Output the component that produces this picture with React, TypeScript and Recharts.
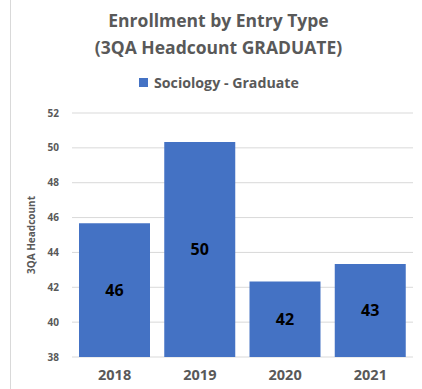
import React from "react";
import { BarChart, Bar, XAxis, YAxis, CartesianGrid, LabelList } from "recharts";

const years = ["2018", "2019", "2020", "2021"];
const headcount = [45.67, 50.33, 42.33, 43.33];
const yTicks = [38, 40, 42, 44, 46, 48, 50, 52];

const data = years.map((y, i) => ({ year: y, value: headcount[i] }));

const FONT = "'Open Sans', sans-serif";
const GRAY = "#595959";

export default function App() {
  return (
    <div style={{ position: "absolute", left: 0, top: 0, width: 422, height: 389, background: "#fff", fontFamily: FONT }}>
      <div style={{ position: "absolute", left: 10, top: 0, width: 1, height: 389, background: "#d9d9d9" }} />
      <div style={{ position: "absolute", left: 0, top: 7, width: 437, textAlign: "center", color: GRAY, fontWeight: 700, fontSize: 17.5, lineHeight: "27px" }}>
        <div>Enrollment by Entry Type</div>
        <div>(3QA Headcount GRADUATE)</div>
      </div>
      <div style={{ position: "absolute", left: 139, top: 73, display: "flex", alignItems: "center", color: GRAY, fontWeight: 700, fontSize: 14.2 }}>
        <span style={{ display: "inline-block", width: 9, height: 9, background: "#4472C4", marginRight: 6 }} />
        <span>Sociology - Graduate</span>
      </div>
      <div style={{ position: "absolute", left: 0, top: 0 }}>
        <BarChart width={422} height={389} data={data} margin={{ top: 113, right: 9, bottom: 0, left: 0 }} barCategoryGap={7}>
          <CartesianGrid vertical={false} stroke="#d9d9d9" />
          <XAxis dataKey="year" axisLine={false} tickLine={false} height={32} tick={{ fill: GRAY, fontSize: 14.5, fontWeight: 700, fontFamily: FONT }} dy={5} />
          <YAxis
            domain={[38, 52]}
            ticks={yTicks}
            interval={0}
            axisLine={false}
            tickLine={false}
            width={72}
            tick={{ fill: GRAY, fontSize: 10, fontWeight: 700, fontFamily: FONT }}
            dx={-5}
            label={{ value: "3QA Headcount", angle: -90, position: "insideLeft", offset: 31, style: { fill: GRAY, fontSize: 10, fontWeight: 700, fontFamily: FONT, textAnchor: "middle" } }}
          />
          <Bar dataKey="value" fill="#4472C4" isAnimationActive={false}>
            <LabelList dataKey="value" position="center" formatter={(v: number) => Math.round(v)} style={{ fill: "#000", fontSize: 16, fontWeight: 700, fontFamily: FONT }} />
          </Bar>
        </BarChart>
      </div>
    </div>
  );
}
